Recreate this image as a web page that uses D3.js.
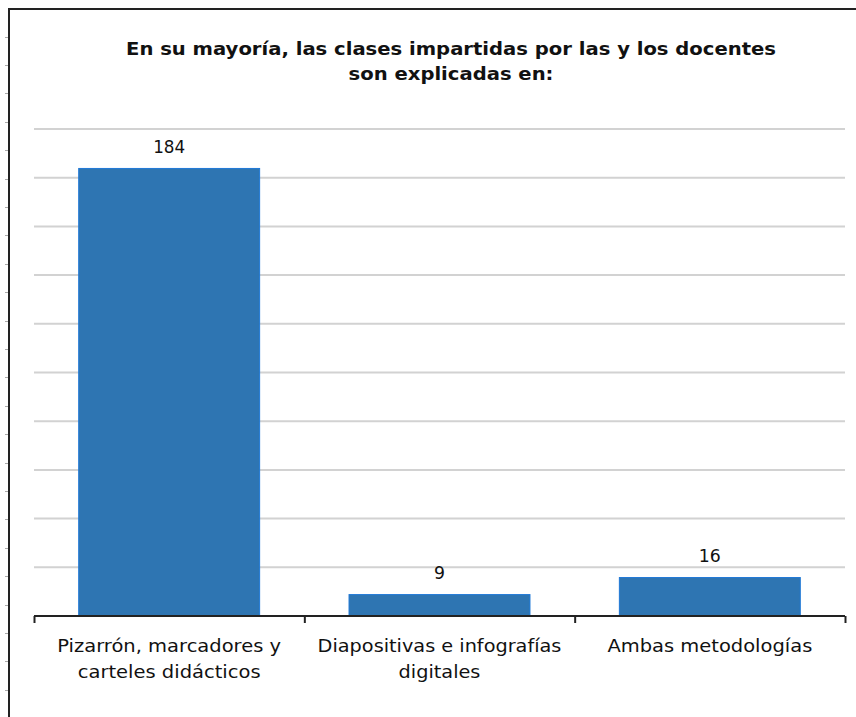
<!DOCTYPE html>
<html>
<head>
<meta charset="utf-8">
<script src="https://cdn.jsdelivr.net/npm/d3@7"></script>
<style>
html,body{margin:0;padding:0;background:#fff;}
svg{display:block;}
</style>
</head>
<body>
<svg id="chart" width="856" height="717"></svg>
<script>
const titleLines = ["En su mayoría, las clases impartidas por las y los docentes", "son explicadas en:"];
const categories = ["Pizarrón, marcadores y carteles didácticos", "Diapositivas e infografías digitales", "Ambas metodologías"];
const categoryLines = [["Pizarrón, marcadores y", "carteles didácticos"], ["Diapositivas e infografías", "digitales"], ["Ambas metodologías"]];
const values = [184, 9, 16];
const yTicks = [0, 20, 40, 60, 80, 100, 120, 140, 160, 180, 200];

const svg = d3.select("#chart");
const W = 856, H = 717;
const plot = {left: 34, right: 845, top: 129, bottom: 616};
const font = "'DejaVu Sans', Verdana, sans-serif";

// frame
svg.append("line").attr("x1", 9).attr("x2", 9).attr("y1", 8).attr("y2", H)
  .attr("stroke", "#222").attr("stroke-width", 2);
svg.append("line").attr("x1", 8).attr("x2", W).attr("y1", 9).attr("y2", 9)
  .attr("stroke", "#222").attr("stroke-width", 2);
const leftTicks = d3.range(36.5, H, 28.4);
svg.selectAll(".lt").data(leftTicks).join("line").attr("class", "lt")
  .attr("x1", 5).attr("x2", 8).attr("y1", d => Math.round(d) + 0.5).attr("y2", d => Math.round(d) + 0.5)
  .attr("stroke", "#aaa").attr("stroke-width", 1);

const x = d3.scaleBand().domain(categories).range([plot.left, plot.right]).paddingInner(0.327).paddingOuter(0.1635);
const y = d3.scaleLinear().domain([0, 200]).range([plot.bottom, plot.top]);

// gridlines
svg.append("g").selectAll("line").data(yTicks.filter(d => d > 0)).join("line")
  .attr("x1", plot.left).attr("x2", plot.right)
  .attr("y1", d => y(d)).attr("y2", d => y(d))
  .attr("stroke", "#d2d2d2").attr("stroke-width", 2);

// bars
svg.append("g").selectAll("rect").data(values).join("rect")
  .attr("x", (d, i) => x(categories[i]) + 0.5)
  .attr("y", d => y(d) + 0.5)
  .attr("width", x.bandwidth() - 1)
  .attr("height", d => y(0) - y(d) - 0.5)
  .attr("fill", "#2e75b2")
  .attr("stroke", "#1f78d6").attr("stroke-width", 1);

// x axis
const xAxisScale = d3.scaleLinear().domain([0, categories.length]).range([plot.left, plot.right]);
const ax = svg.append("g").attr("transform", `translate(0,${plot.bottom})`)
  .call(d3.axisBottom(xAxisScale).tickValues(d3.range(0, categories.length + 1)).tickSize(7).tickFormat(""));
ax.select(".domain").attr("stroke", "#222").attr("stroke-width", 2).attr("d", `M${plot.left},0H${plot.right}`);
ax.selectAll(".tick line").attr("stroke", "#222").attr("stroke-width", 2);

// helper: block of centered lines, horizontally condensed to a target width of its first line
function textBlock(cx, baseY, lines, size, lineGap, weight, widthFirst) {
  const g = svg.append("g").attr("transform", `translate(${cx},${baseY})`);
  const inner = g.append("g");
  lines.forEach((ln, j) => {
    inner.append("text").attr("x", 0).attr("y", j * lineGap)
      .attr("text-anchor", "middle").attr("font-family", font)
      .attr("font-weight", weight).attr("font-size", size)
      .attr("fill", "#111").text(ln);
  });
  if (widthFirst) {
    const w = inner.select("text").node().getComputedTextLength();
    inner.attr("transform", `scale(${widthFirst / w},1)`);
  }
  return g;
}

// value labels
const valueWidths = [32, 11, 22];
values.forEach((v, i) => {
  textBlock(x(categories[i]) + x.bandwidth() / 2, y(v) - 15, [String(v)], 18, 0, "normal", valueWidths[i]);
});

// category labels
const labelWidths = [224, 244, 205];
categoryLines.forEach((lines, i) => {
  textBlock(x(categories[i]) + x.bandwidth() / 2, 652, lines, 18, 26, "normal", labelWidths[i]);
});

// title
textBlock(451, 55, titleLines, 18.5, 25, "bold", 650);
</script>
</body>
</html>
